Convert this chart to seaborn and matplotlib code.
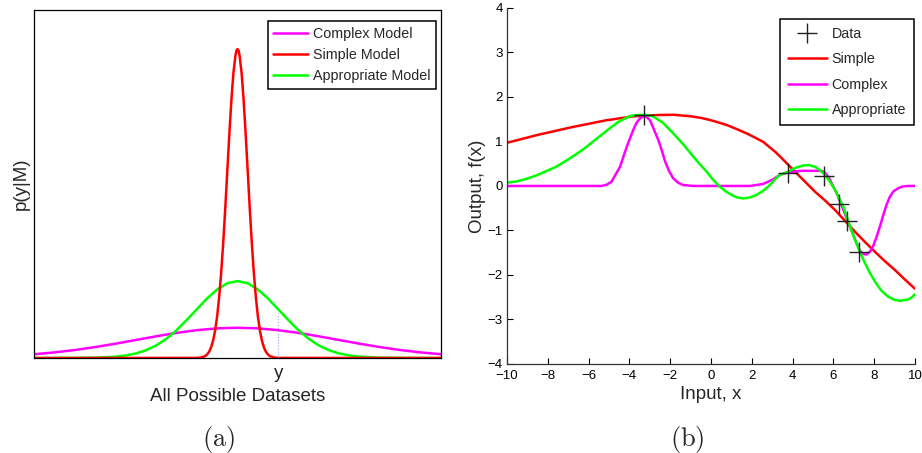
import numpy as np
import pandas as pd
import matplotlib
matplotlib.use("Agg")
import matplotlib.pyplot as plt
import seaborn as sns

sns.set_theme(style="white")
plt.rcParams["font.family"] = ["Liberation Sans", "DejaVu Sans"]
plt.rcParams["mathtext.fontset"] = "cm"

MAGENTA = "#ff00ff"
RED = "#ff0000"
GREEN = "#00ff00"

# ── panel (a): evidence p(y|M) over all possible datasets ─────────────────────
simple_a_x = [-10, -2.0, -1.8, -1.6, -1.5, -1.4, -1.3, -1.2, -1.1, -1.0, -0.9, -0.8,
              -0.7, -0.6, -0.5, -0.4, -0.3, -0.2, -0.1, -0.05, 0.0, 0.05, 0.1, 0.2,
              0.3, 0.4, 0.5, 0.6, 0.7, 0.8, 0.9, 1.0, 1.1, 1.2, 1.3, 1.4, 1.5, 1.6,
              1.8, 2.0, 10]
simple_a_y = [0, 0.0003, 0.0014, 0.0053, 0.0099, 0.0176, 0.0302, 0.0498, 0.079, 0.120,
              0.176, 0.247, 0.333, 0.432, 0.539, 0.645, 0.742, 0.820, 0.870, 0.884,
              0.888, 0.884, 0.870, 0.820, 0.742, 0.645, 0.539, 0.432, 0.333, 0.247,
              0.176, 0.120, 0.079, 0.0498, 0.0302, 0.0176, 0.0099, 0.0053, 0.0014,
              0.0003, 0]

approp_a_x = [-10, -8, -7, -6, -5.5, -5, -4.5, -4, -3.5, -3, -2.5, -2, -1.5, -1, -0.5,
              0, 0.5, 1, 1.5, 2, 2.5, 3, 3.5, 4, 4.5, 5, 5.5, 6, 7, 8, 10]
approp_a_y = [0, 0.0002, 0.0009, 0.0037, 0.0072, 0.0130, 0.0223, 0.0360, 0.0551,
              0.0797, 0.109, 0.140, 0.171, 0.197, 0.215, 0.221, 0.215, 0.197, 0.171,
              0.140, 0.109, 0.0797, 0.0551, 0.0360, 0.0223, 0.0130, 0.0072, 0.0037,
              0.0009, 0.0002, 0]

complex_a_x = [-10, -9, -8, -7, -6, -5, -4, -3, -2, -1, 0, 1, 2, 3, 4, 5, 6, 7, 8, 9, 10]
complex_a_y = [0.0108, 0.0161, 0.0229, 0.0314, 0.0411, 0.0517, 0.0623, 0.0722, 0.0800,
               0.0852, 0.087, 0.0852, 0.0800, 0.0722, 0.0623, 0.0517, 0.0411, 0.0314,
               0.0229, 0.0161, 0.0108]

observed_y = 2.0
observed_height = 0.13

# ── panel (b): fits of three models to the data ───────────────────────────────
data_x = [-3.28, 3.79, 5.55, 6.27, 6.65, 7.24]
data_y = [1.59, 0.29, 0.22, -0.40, -0.79, -1.49]

simple_b_x = [-10, -8.47, -6.83, -5.20, -3.89, -3.24, -2.5, -1.85, -1.0, -0.5, -0.21,
              0.2, 0.77, 1.25, 1.75, 2.1, 2.56, 2.85, 3.14, 3.5, 4.12, 4.6, 5.10, 5.6,
              6.08, 6.6, 7.06, 7.55, 8.04, 8.5, 9.02, 9.5, 10]
simple_b_y = [0.97, 1.15, 1.32, 1.47, 1.56, 1.58, 1.595, 1.60, 1.565, 1.53, 1.50,
              1.45, 1.37, 1.28, 1.18, 1.10, 0.99, 0.88, 0.77, 0.61, 0.32, 0.10, -0.13,
              -0.33, -0.54, -0.80, -1.03, -1.26, -1.48, -1.68, -1.89, -2.10, -2.31]

complex_b_x = [-10, -5.36, -5.1, -4.87, -4.46, -4.3, -4.13, -3.81, -3.65, -3.48, -3.24,
               -2.99, -2.58, -2.4, -2.25, -2.05, -1.85, -1.6, -1.36, -0.87, 1.91, 2.56,
               3.05, 3.38, 3.79, 4.45, 5.43, 5.6, 5.75, 5.95, 6.16, 6.49, 6.81, 7.14,
               7.3, 7.47, 7.62, 7.79, 7.95, 8.12, 8.3, 8.45, 8.6, 8.77, 8.95, 9.18,
               9.4, 9.67, 10]
complex_b_y = [0, 0, 0.03, 0.10, 0.43, 0.65, 0.88, 1.26, 1.42, 1.52, 1.58, 1.48, 1.03,
               0.78, 0.55, 0.33, 0.17, 0.07, 0.02, 0, 0, 0.045, 0.15, 0.25, 0.31, 0.34,
               0.34, 0.29, 0.21, 0.03, -0.16, -0.54, -0.91, -1.29, -1.45, -1.53, -1.54,
               -1.48, -1.35, -1.14, -0.88, -0.65, -0.43, -0.24, -0.12, -0.05, -0.01,
               0, 0]

approp_b_x = [-10, -9.55, -9.12, -8.6, -8.14, -7.6, -7.16, -6.65, -6.18, -5.75, -5.36,
              -4.95, -4.54, -4.2, -3.89, -3.55, -3.24, -2.83, -2.35, -1.85, -1.35,
              -0.87, -0.55, -0.21, 0.1, 0.44, 0.75, 1.09, 1.3, 1.58, 1.9, 2.24, 2.55,
              2.89, 3.1, 3.38, 3.79, 4.15, 4.53, 4.8, 5.10, 5.35, 5.59, 5.85, 6.08,
              6.49, 6.73, 7.06, 7.47, 7.75, 8.04, 8.35, 8.69, 9.0, 9.26, 9.67, 9.85, 10]
approp_b_y = [0.075, 0.10, 0.15, 0.23, 0.32, 0.43, 0.55, 0.70, 0.85, 1.01, 1.15,
              1.30, 1.44, 1.52, 1.58, 1.595, 1.60, 1.56, 1.42, 1.18, 0.93, 0.66, 0.49,
              0.32, 0.14, -0.02, -0.13, -0.22, -0.26, -0.28, -0.26, -0.20, -0.11,
              0.02, 0.13, 0.25, 0.32, 0.41, 0.46, 0.47, 0.43, 0.35, 0.25, 0.08, -0.09,
              -0.47, -0.80, -1.21, -1.66, -1.92, -2.15, -2.35, -2.49, -2.56, -2.58,
              -2.55, -2.50, -2.43]

fig = plt.figure(figsize=(9.22, 4.53), dpi=100)
ax_a = fig.add_axes([0.0369, 0.2097, 0.4414, 0.768])
ax_b = fig.add_axes([0.5499, 0.1965, 0.4425, 0.786])

LW = 1.8

# panel (a)
sns.lineplot(x=complex_a_x, y=complex_a_y, color=MAGENTA, lw=LW, sort=False,
             estimator=None, label="Complex Model", ax=ax_a)
sns.lineplot(x=approp_a_x, y=approp_a_y, color=GREEN, lw=LW, sort=False,
             estimator=None, label="Appropriate Model", ax=ax_a)
sns.lineplot(x=simple_a_x, y=simple_a_y, color=RED, lw=LW, sort=False,
             estimator=None, label="Simple Model", ax=ax_a)
ax_a.plot([observed_y, observed_y], [0, observed_height], ":", color="#9a9aff", lw=0.8)

ax_a.set_xlim(-10, 10)
ax_a.set_ylim(0, 1)
ax_a.set_yticks([])
ax_a.set_xticks([observed_y])
ax_a.set_xticklabels(["y"], fontsize=13.5)
ax_a.tick_params(axis="x", length=0, pad=5)
ax_a.set_xlabel("All Possible Datasets", fontsize=13.5, labelpad=4)
ax_a.set_ylabel("p(y|M)", fontsize=13.5, labelpad=3)
for s in ax_a.spines.values():
    s.set_color("black")
    s.set_linewidth(0.9)

h, l = ax_a.get_legend_handles_labels()
order = ["Complex Model", "Simple Model", "Appropriate Model"]
hd = dict(zip(l, h))
ax_a.legend([hd[k] for k in order], order, loc="upper right", bbox_to_anchor=(0.9877, 0.968),
            fontsize=10.3, frameon=True, fancybox=False, edgecolor="black", framealpha=1,
            handlelength=2.4, handletextpad=0.35, labelspacing=0.5, borderpad=0.4,
            borderaxespad=0)
ax_a.get_legend().get_frame().set_linewidth(1.1)

# panel (b)
sns.lineplot(x=simple_b_x, y=simple_b_y, color=RED, lw=LW, sort=False,
             estimator=None, label="Simple", ax=ax_b)
sns.lineplot(x=complex_b_x, y=complex_b_y, color=MAGENTA, lw=LW, sort=False,
             estimator=None, label="Complex", ax=ax_b)
sns.lineplot(x=approp_b_x, y=approp_b_y, color=GREEN, lw=LW, sort=False,
             estimator=None, label="Appropriate", ax=ax_b)
ax_b.plot(data_x, data_y, "+", color="#222222", ms=15, mew=1.0, label="Data")

ax_b.set_xlim(-10, 10)
ax_b.set_ylim(-4, 4)
ax_b.set_xticks(np.arange(-10, 11, 2))
ax_b.set_yticks(np.arange(-4, 5, 1))
ax_b.tick_params(axis="both", direction="in", length=4, width=0.8, labelsize=9.5,
                 bottom=True, left=True, colors="black")
ax_b.tick_params(axis="x", pad=4)
ax_b.tick_params(axis="y", pad=3)
ax_b.set_xlabel("Input, x", fontsize=13.5, labelpad=3)
ax_b.set_ylabel("Output, f(x)", fontsize=13.5, labelpad=1)
sns.despine(ax=ax_b)
for s in ["left", "bottom"]:
    ax_b.spines[s].set_color("#333333")
    ax_b.spines[s].set_linewidth(0.9)

h, l = ax_b.get_legend_handles_labels()
order = ["Data", "Simple", "Complex", "Appropriate"]
hd = dict(zip(l, h))
ax_b.legend([hd[k] for k in order], order, loc="upper right", bbox_to_anchor=(0.9975, 0.969),
            fontsize=10.3, frameon=True, fancybox=False, edgecolor="black", framealpha=1,
            handlelength=2.7, handletextpad=0.35, labelspacing=0.8, borderpad=0.55,
            borderaxespad=0)
ax_b.get_legend().get_frame().set_linewidth(1.1)

fig.text(0.2375, 0.016, r"$\mathrm{(a)}$", fontsize=19, ha="center")
fig.text(0.7455, 0.016, r"$\mathrm{(b)}$", fontsize=19, ha="center")

fig.savefig("out.png", dpi=100)
